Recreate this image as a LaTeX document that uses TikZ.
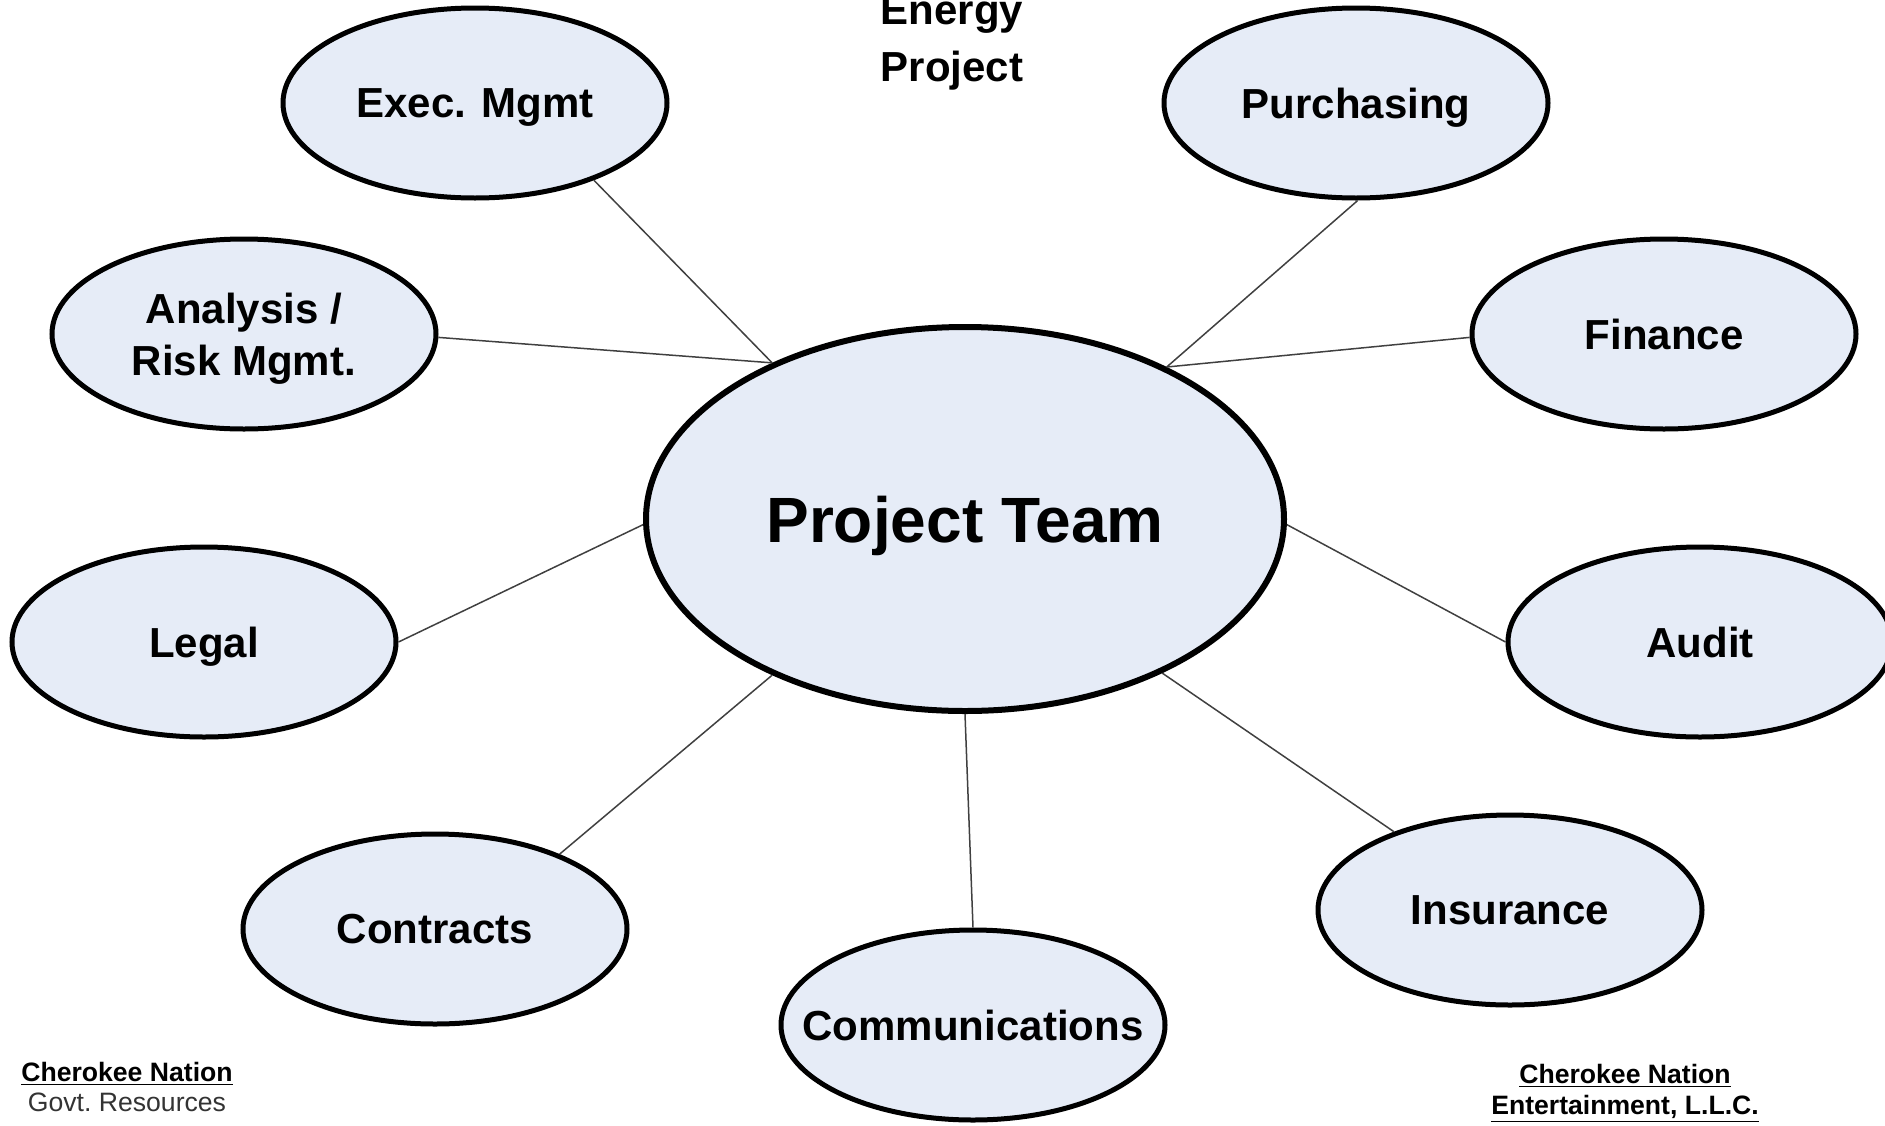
\documentclass[tikz,border=0pt]{standalone}
\usepackage{fontspec}
\setmainfont{Liberation Sans}
\usetikzlibrary{shapes.geometric}
\definecolor{bubblefill}{RGB}{230,236,247}

\begin{document}
\begin{tikzpicture}[x=0.5pt, y=-0.5pt,
        bubble/.style={ellipse, draw=black, line width=2.5pt, fill=bubblefill,
            minimum width=192pt, minimum height=95pt, inner sep=0pt, align=center,
            text depth=0pt, font=\fontsize{21}{26}\selectfont\bfseries},
        hub/.style={ellipse, draw=black, line width=3pt, fill=bubblefill,
            minimum width=319pt, minimum height=192pt, inner sep=0pt,
            text depth=0pt, font=\fontsize{32}{38}\selectfont\bfseries},
        spoke/.style={draw=black!75, line width=0.75pt},
        footnote/.style={align=center, anchor=base}]

        \useasboundingbox (0,0) rectangle (1885,1125);
        \clip (0,0) rectangle (1885,1125);

        % Title
        \node[align=center, anchor=base, font=\fontsize{21}{28.5}\selectfont\bfseries]
            (title) at (952,81) {Energy\\Project};

        % Spokes
        \foreach \name/\x/\y/\txt in {
            exec/475/103/{Exec. Mgmt},
            purch/1356/103/{Purchasing},
            analysis/244/334/{Analysis /\\Risk Mgmt.},
            finance/1664/334/{Finance},
            legal/204/642/{Legal},
            audit/1700/642/{Audit},
            contracts/435/929/{Contracts},
            comms/973/1025/{\makebox[0pt]{Communications}},
            insurance/1510/910/{Insurance}}
        {
            \node[bubble] (\name) at (\x,\y) {\txt};
        }

        % Hub
        \node[hub] (team) at (965,519) {Project Team};

        % Connect hub to spokes
        \foreach \name/\a/\b in {
            exec/141/327, analysis/141/359,
            purch/37/271, finance/37/181,
            legal/181/0, audit/359/180,
            contracts/219/31, comms/270/90,
            insurance/322/146}
        {
            \draw[spoke] (team.\a) -- (\name.\b);
        }

        % Footers
        \node[footnote, font=\fontsize{13.3}{15}\selectfont] (govt) at (127,1111)
            {\underline{\textbf{Cherokee Nation}}\\{\color{black!80}Govt.\ Resources}};
        \node[footnote, font=\fontsize{13.3}{15.5}\selectfont\bfseries] (ent) at (1625,1114)
            {\underline{Cherokee Nation}\\\underline{Entertainment, L.L.C.}};

\end{tikzpicture}
\end{document}
